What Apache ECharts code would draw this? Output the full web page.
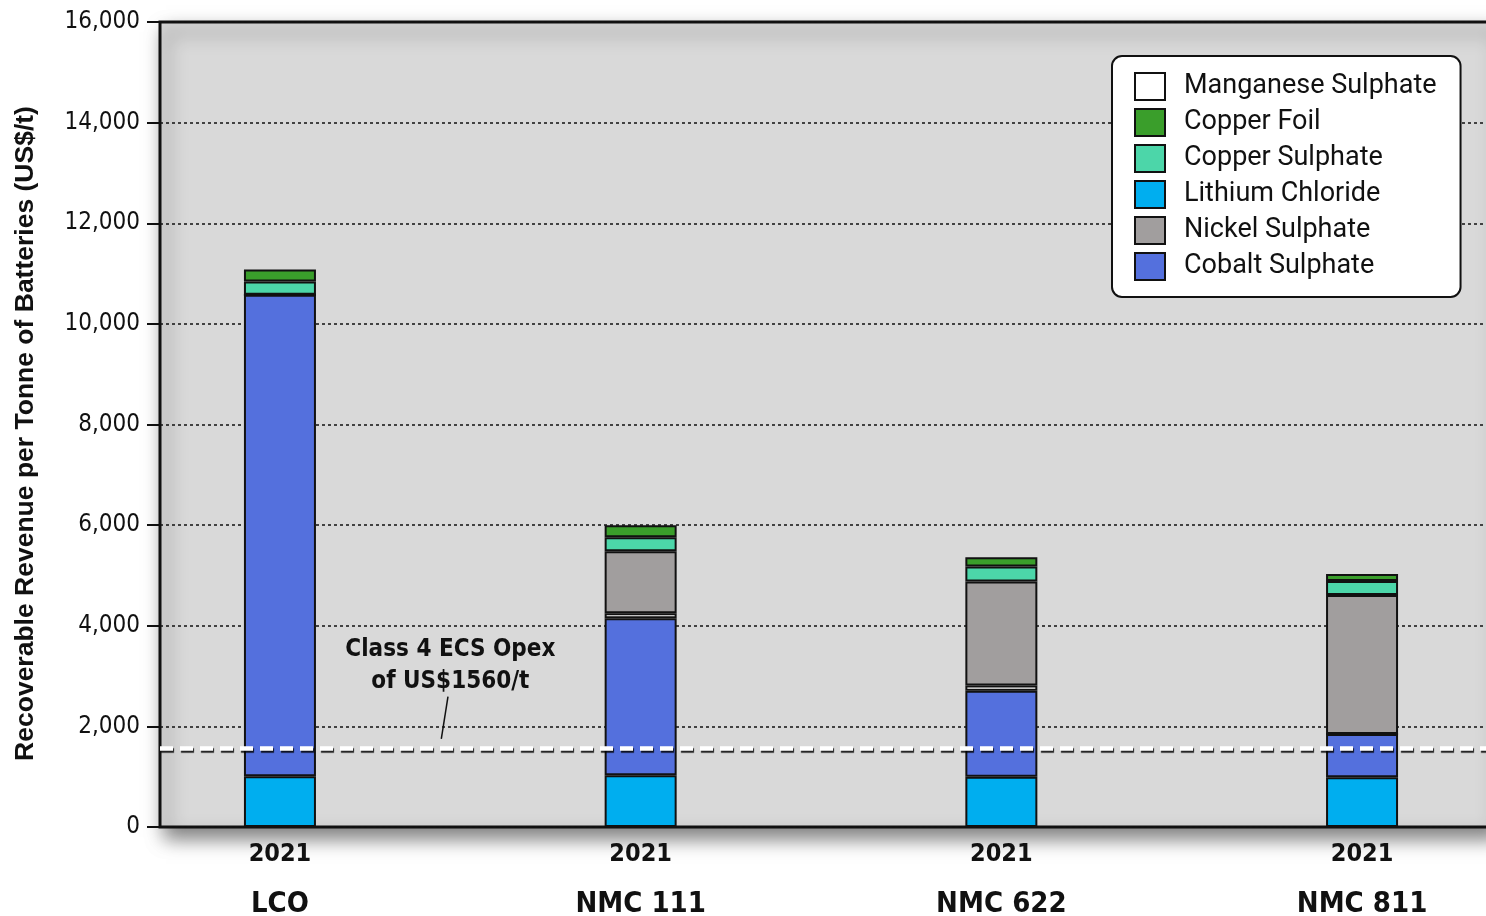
<!DOCTYPE html>
<html>
<head>
<meta charset="utf-8">
<title>Recoverable Revenue per Tonne of Batteries</title>
<script src="https://cdn.jsdelivr.net/npm/echarts@6/dist/echarts.min.js"></script>
<style>
  html, body { margin: 0; padding: 0; background: #ffffff; }
  #chart { width: 1486px; height: 916px; }
</style>
</head>
<body>
<div id="chart"></div>
<script>
// Battery chemistries and their year
const categories = ['LCO', 'NMC 111', 'NMC 622', 'NMC 811'];
const years = ['2021', '2021', '2021', '2021'];

// Recoverable revenue per product (US$/t of batteries), bottom to top of each stack
const lithiumChloride   = [1010, 1030, 1000, 990];
const cobaltSulphate    = [9570, 3120, 1710, 860];
const manganeseSulphate = [0, 100, 100, 0];
const nickelSulphate    = [0, 1230, 2070, 2760];
const copperSulphate    = [260, 280, 300, 280];
const copperFoil        = [240, 240, 180, 140];

// Processing cost threshold
const opexValue = 1560;
const opexText = ['Class 4 ECS Opex', 'of US$1560/t'];

// Value axis range
const yMin = 0, yMax = 16000, yStep = 2000;

const legendOrder = ['Manganese Sulphate', 'Copper Foil', 'Copper Sulphate',
                     'Lithium Chloride', 'Nickel Sulphate', 'Cobalt Sulphate'];

const colors = {
  'Lithium Chloride': '#00AEEF',
  'Cobalt Sulphate': '#5470DD',
  'Manganese Sulphate': '#FFFFFF',
  'Nickel Sulphate': '#A19E9E',
  'Copper Sulphate': '#4CD6A9',
  'Copper Foil': '#3A9E2B'
};

const stackSeries = [
  ['Lithium Chloride', lithiumChloride],
  ['Cobalt Sulphate', cobaltSulphate],
  ['Manganese Sulphate', manganeseSulphate],
  ['Nickel Sulphate', nickelSulphate],
  ['Copper Sulphate', copperSulphate],
  ['Copper Foil', copperFoil]
];

const narrow = '"Liberation Sans Narrow", "DejaVu Sans Condensed", sans-serif';

const chart = echarts.init(document.getElementById('chart'), null, { renderer: 'canvas' });

const bars = stackSeries.map(([name, values]) => ({
  name: name,
  type: 'bar',
  xAxisIndex: 1,
  yAxisIndex: 1,
  stack: 'revenue',
  barWidth: 72,
  data: values,
  itemStyle: { color: colors[name], borderColor: '#111111', borderWidth: 2 },
  emphasis: { disabled: true },
  z: 3
}));

chart.setOption({
  animation: false,
  backgroundColor: '#ffffff',
  grid: [
    { // plot panel: background, border, gridlines, threshold line
      left: 160, right: -6, top: 22, bottom: 89,
      outerBoundsMode: 'none',
      containLabel: false,
      show: true,
      backgroundColor: '#D9D9D9',
      borderColor: '#111111',
      borderWidth: 3,
      shadowColor: 'rgba(0,0,0,0.5)',
      shadowBlur: 18,
      shadowOffsetX: 6,
      shadowOffsetY: 10
    },
    { // bar layout
      left: 99.6, right: -56.4, top: 22, bottom: 89,
      outerBoundsMode: 'none',
      containLabel: false,
      show: false
    }
  ],
  legend: {
    data: legendOrder,
    orient: 'vertical',
    left: 1112,
    top: 56,
    backgroundColor: '#ffffff',
    borderColor: '#111111',
    borderWidth: 2,
    borderRadius: 10,
    padding: [16, 24, 16, 22],
    itemWidth: 30,
    itemHeight: 27,
    itemGap: 7,
    icon: 'rect',
    selectedMode: false,
    textStyle: {
      fontFamily: 'Roboto, sans-serif',
      fontSize: 27,
      lineHeight: 27,
      color: '#111111',
      padding: [0, 0, 0, 14]
    }
  },
  xAxis: [
    { type: 'value', gridIndex: 0, min: 0, max: 1, show: false },
    {
      type: 'category',
      gridIndex: 1,
      data: categories,
      axisLine: { show: false },
      axisTick: { show: false },
      axisLabel: {
        margin: 10,
        formatter: (value, idx) => '{y|' + years[idx] + '}\n{c|' + value + '}',
        rich: {
          y: { fontFamily: narrow, fontWeight: 'bold', fontSize: 25, lineHeight: 34, color: '#111111' },
          c: { fontFamily: narrow, fontWeight: 'bold', fontSize: 29, lineHeight: 66, color: '#111111' }
        }
      }
    }
  ],
  yAxis: [
    {
      type: 'value',
      gridIndex: 0,
      min: yMin, max: yMax, interval: yStep,
      name: 'Recoverable Revenue per Tonne of Batteries (US$/t)',
      nameLocation: 'middle',
      nameGap: 121,
      nameTextStyle: {
        fontFamily: '"Liberation Sans", Arial, sans-serif',
        fontWeight: 'bold',
        fontSize: 26.5,
        color: '#111111',
        padding: [0, 18, 0, 0]
      },
      axisLine: { show: false },
      axisTick: { show: true, length: 13, lineStyle: { color: '#111111', width: 2 } },
      axisLabel: {
        margin: 20,
        fontFamily: narrow,
        fontSize: 24,
        color: '#111111',
        formatter: v => v.toLocaleString('en-US')
      },
      splitLine: { show: true, lineStyle: { color: '#111111', width: 1.5, type: [3, 3] } }
    },
    { type: 'value', gridIndex: 1, min: yMin, max: yMax, interval: yStep, show: false }
  ],
  series: bars.concat([
    {
      name: 'Opex',
      type: 'line',
      xAxisIndex: 0,
      yAxisIndex: 0,
      data: [[0, opexValue], [1, opexValue]],
      symbol: 'none',
      silent: true,
      z: 6,
      lineStyle: {
        color: '#ffffff',
        width: 4.5,
        type: [13, 7],
        shadowColor: 'rgba(0,0,0,0.85)',
        shadowBlur: 1,
        shadowOffsetX: 1,
        shadowOffsetY: 2
      },
      markLine: {
        silent: true,
        symbol: ['none', 'none'],
        label: { show: false },
        lineStyle: { color: '#111111', width: 1.5, type: 'solid' },
        data: [[{ coord: [0.2162, 2590] }, { coord: [0.2112, 1750] }]]
      },
      markPoint: {
        silent: true,
        symbol: 'rect',
        symbolSize: 1,
        itemStyle: { color: 'rgba(0,0,0,0)' },
        label: {
          show: true,
          position: 'inside',
          formatter: opexText.join('\n'),
          fontFamily: narrow,
          fontWeight: 'bold',
          fontSize: 24,
          lineHeight: 32,
          color: '#111111',
          align: 'center'
        },
        data: [{ coord: [0.218, 3200] }]
      }
    }
  ])
});
</script>
</body>
</html>
